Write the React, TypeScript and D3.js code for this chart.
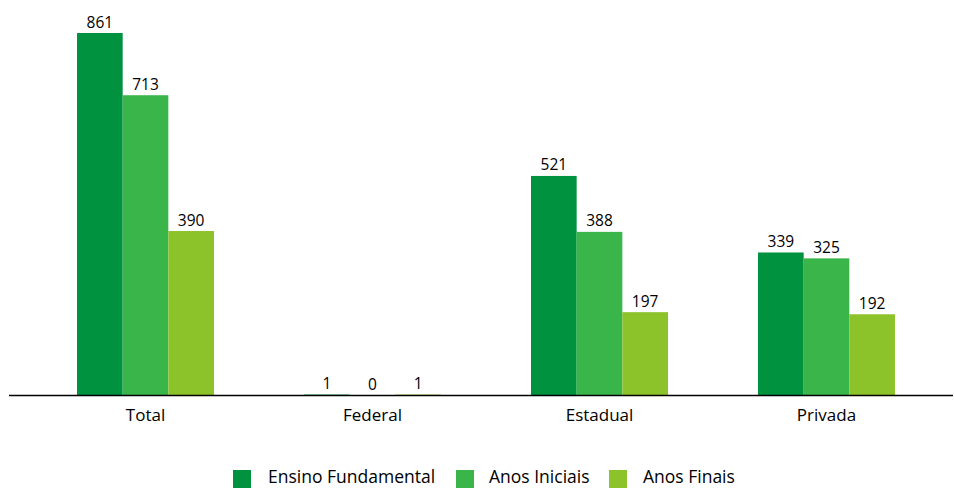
import * as React from 'react';
import * as d3 from 'd3';

const categories = ['Total', 'Federal', 'Estadual', 'Privada'];
const seriesNames = ['Ensino Fundamental', 'Anos Iniciais', 'Anos Finais'];
const ensinoFundamental = [861, 1, 521, 339];
const anosIniciais = [713, 0, 388, 325];
const anosFinais = [390, 1, 197, 192];

const colors = ['#00923F', '#3AB54A', '#8CC22A'];

const App: React.FC = () => {
    const ref = React.useRef<SVGSVGElement>(null);

    React.useEffect(() => {
        const width = 954;
        const height = 488;
        const baseline = 395;
        const font = "'Open Sans', 'Liberation Sans', sans-serif";

        const svg = d3.select(ref.current);
        svg.selectAll('*').remove();

        const series = [ensinoFundamental, anosIniciais, anosFinais];

        const x0 = d3.scaleBand()
            .domain(categories)
            .range([32, 940])
            .paddingInner(90 / 227)
            .paddingOuter(45 / 227);

        const x1 = d3.scaleBand()
            .domain(seriesNames)
            .range([0, x0.bandwidth()]);

        const y = d3.scaleLinear()
            .domain([0, 861])
            .range([baseline, 33]);

        const groups = svg.selectAll('g.grp')
            .data(categories)
            .enter().append('g')
                .attr('class', 'grp')
                .attr('transform', d => `translate(${x0(d)},0)`);

        groups.each(function (cat, ci) {
            const g = d3.select(this);
            seriesNames.forEach((s, si) => {
                const v = series[si][ci];
                g.append('rect')
                    .attr('x', x1(s)!)
                    .attr('y', y(v))
                    .attr('width', x1.bandwidth())
                    .attr('height', baseline - y(v))
                    .attr('fill', colors[si]);
                g.append('text')
                    .attr('x', x1(s)! + x1.bandwidth() / 2)
                    .attr('y', y(v) - 5.5)
                    .attr('text-anchor', 'middle')
                    .attr('font-family', font)
                    .attr('font-size', 15.5)
                    .attr('fill', '#000')
                    .text(v);
            });
        });

        // axis line
        svg.append('line')
            .attr('x1', 9).attr('x2', 953)
            .attr('y1', baseline + 0.5).attr('y2', baseline + 0.5)
            .attr('stroke', '#000')
            .attr('stroke-width', 1.3);

        svg.selectAll('text.cat')
            .data(categories)
            .enter().append('text')
                .attr('class', 'cat')
                .attr('x', d => x0(d)! + x0.bandwidth() / 2)
                .attr('y', 421)
                .attr('text-anchor', 'middle')
                .attr('font-family', font)
                .attr('font-size', 17)
                .attr('fill', '#000')
                .text(d => d);

        // legend (sits at the bottom edge, as in the original)
        const legendX = [233, 456, 609];
        const legendTextX = [268, 489, 643];
        seriesNames.forEach((s, i) => {
            svg.append('rect')
                .attr('x', legendX[i])
                .attr('y', 470)
                .attr('width', 18)
                .attr('height', 18)
                .attr('fill', colors[i]);
            svg.append('text')
                .attr('x', legendTextX[i])
                .attr('y', 483)
                .attr('font-family', font)
                .attr('font-size', 17.5)
                .attr('fill', '#000')
                .text(s);
        });

        svg.attr('width', width).attr('height', height);
    }, []);

    return (
        <div style={{ position: 'absolute', left: 0, top: 0 }}>
            <svg ref={ref} width={954} height={488} style={{ display: 'block' }} />
        </div>
    );
};

export default App;
